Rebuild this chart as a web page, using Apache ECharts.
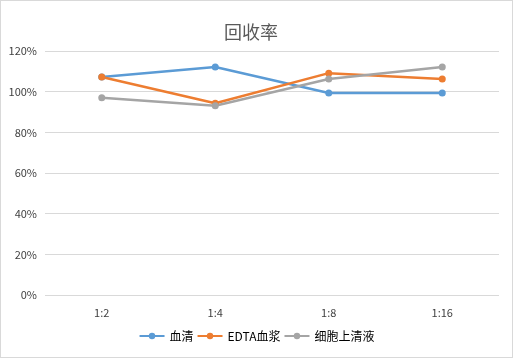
<!DOCTYPE html>
<html><head><meta charset="utf-8">
<script src="https://cdn.jsdelivr.net/npm/echarts@6/dist/echarts.min.js"></script>
<style>html,body{margin:0;padding:0;background:#fff}#c{width:511px;height:356px;border:1px solid #d9d9d9}</style>
</head><body><div id="c"></div>
<script>
const categories = ['1:2', '1:4', '1:8', '1:16'];
const serum = [107.2, 112.1, 99.3, 99.3];
const edtaPlasma = [107.2, 94.3, 109.1, 106.2];
const cellSupernatant = [97.0, 93.1, 106.2, 112.1];
const seriesNames = ['血清', 'EDTA血浆', '细胞上清液'];
const colors = ['#5B9BD5', '#ED7D31', '#A5A5A5'];
const font = '"Microsoft YaHei","Noto Sans CJK SC","Liberation Sans",sans-serif';
const chart = echarts.init(document.getElementById('c'));
const mk = (name, data, i) => ({
  name, type: 'line', data, color: colors[i],
  symbol: 'circle', symbolSize: 7,
  lineStyle: { width: 2.5, color: colors[i] },
  itemStyle: { color: colors[i] }
});
chart.setOption({
  animation: false,
  title: { text: '回收率', left: 218, top: 17, textStyle: { fontSize: 18, fontWeight: 'normal', color: '#595959', fontFamily: font } },
  grid: { left: 44, right: 13, top: 50, bottom: 62 },
  legend: { left: 'center', bottom: 10, itemGap: 3, itemWidth: 25, itemHeight: 8, textStyle: { fontSize: 12, color: '#000', fontFamily: font } },
  xAxis: { type: 'category', data: categories, boundaryGap: true,
    axisLine: { show: false }, axisTick: { show: false },
    axisLabel: { fontSize: 11, color: '#404040', margin: 12, fontFamily: font } },
  yAxis: { type: 'value', min: 0, max: 120, interval: 20,
    axisLabel: { formatter: '{value}%', fontSize: 11, color: '#404040', margin: 8, fontFamily: font },
    splitLine: { lineStyle: { color: '#d9d9d9', width: 1 } } },
  series: [mk(seriesNames[0], serum, 0), mk(seriesNames[1], edtaPlasma, 1), mk(seriesNames[2], cellSupernatant, 2)]
});
</script></body></html>
